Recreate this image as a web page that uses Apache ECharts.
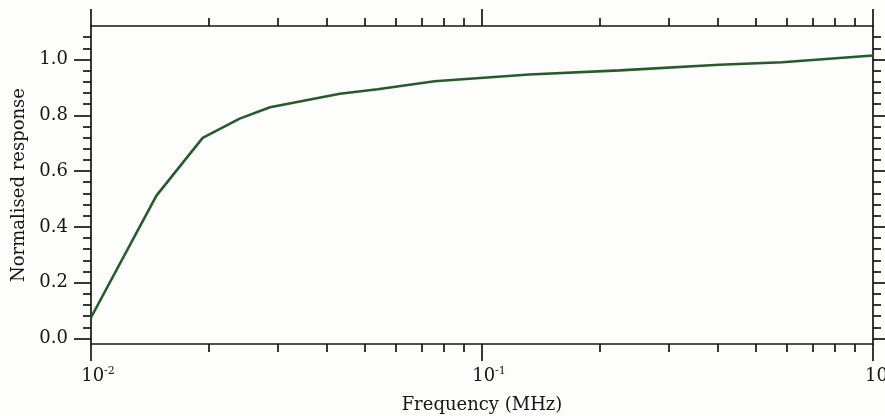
<!DOCTYPE html>
<html>
<head>
<meta charset="utf-8">
<script src="https://cdn.jsdelivr.net/npm/echarts@6/dist/echarts.min.js"></script>
<style>
  html, body { margin: 0; padding: 0; background: #fdfdfc; }
  #chart { width: 885px; height: 416px; }
</style>
</head>
<body>
<div id="chart"></div>
<script>
// Measured frequency response (frequency in MHz, normalised response)
const frequencyMHz = [0.01, 0.0147, 0.0193, 0.024, 0.0287, 0.0433, 0.0541, 0.0756, 0.132, 0.225, 0.404, 0.586, 1.0];
const normalisedResponse = [0.075, 0.512, 0.719, 0.788, 0.829, 0.877, 0.893, 0.922, 0.946, 0.961, 0.981, 0.990, 1.014];

// Tick positions
const xMajorTicks = [0.01, 0.1, 1];
const xMinorTicks = [0.02, 0.03, 0.04, 0.05, 0.06, 0.07, 0.08, 0.09, 0.2, 0.3, 0.4, 0.5, 0.6, 0.7, 0.8, 0.9];
const yMajorTicks = [0, 0.2, 0.4, 0.6, 0.8, 1.0];
const yMinorTicks = [0.04, 0.08, 0.12, 0.16, 0.24, 0.28, 0.32, 0.36, 0.44, 0.48, 0.52, 0.56,
                     0.64, 0.68, 0.72, 0.76, 0.84, 0.88, 0.92, 0.96, 1.04, 1.08];

const FONT = 'DejaVu Serif';
const INK = '#151515';
const majorLen = 17, minorLen = 8;

function xAxisBase(position, ticks, len, withLine) {
  return {
    type: 'log', logBase: 10, position: position, min: 0.01, max: 1,
    axisLine: { show: withLine, onZero: false, lineStyle: { color: INK, width: 1.7 } },
    axisTick: { show: true, inside: false, length: len, customValues: ticks, lineStyle: { color: INK, width: 1.7 } },
    axisLabel: { show: false },
    splitLine: { show: false }, minorTick: { show: false }
  };
}
function yAxisBase(position, ticks, len, withLine) {
  return {
    type: 'value', position: position, min: -0.02, max: 1.12,
    axisLine: { show: withLine, onZero: false, lineStyle: { color: INK, width: 1.7 } },
    axisTick: { show: true, inside: false, length: len, customValues: ticks, lineStyle: { color: INK, width: 1.7 } },
    axisLabel: { show: false },
    splitLine: { show: false }
  };
}

const xBottom = xAxisBase('bottom', xMajorTicks, majorLen, true);
xBottom.axisLabel = {
  show: true, customValues: xMajorTicks, margin: 22, color: INK,
  fontFamily: FONT, fontSize: 18, padding: [0, 0, 0, 14],
  formatter: function (v) { return '{b|10}{sup|' + Math.round(Math.log10(v)) + '}'; },
  rich: {
    b: { fontFamily: FONT, fontSize: 18, color: INK },
    sup: { fontFamily: FONT, fontSize: 11, color: INK, verticalAlign: 'top', padding: [0, 0, 9, 0] }
  }
};
xBottom.name = 'Frequency (MHz)';
xBottom.nameLocation = 'middle';
xBottom.nameGap = 52;
xBottom.nameTextStyle = { fontFamily: FONT, fontSize: 18, color: INK };

const yLeft = yAxisBase('left', yMajorTicks, majorLen, true);
yLeft.axisLabel = {
  show: true, customValues: yMajorTicks, margin: 23, color: INK,
  fontFamily: FONT, fontSize: 18,
  formatter: function (v) { return v.toFixed(1); }
};
yLeft.name = 'Normalised response';
yLeft.nameLocation = 'middle';
yLeft.nameGap = 62;
yLeft.nameTextStyle = { fontFamily: FONT, fontSize: 18, color: INK };

const option = {
  backgroundColor: '#fdfdfc',
  animation: false,
  grid: { left: 91, right: 12, top: 26, bottom: 72, containLabel: false, outerBoundsMode: 'none' },
  xAxis: [
    xBottom,
    xAxisBase('bottom', xMinorTicks, minorLen, false),
    xAxisBase('top', xMajorTicks, majorLen, true),
    xAxisBase('top', xMinorTicks, minorLen, false)
  ],
  yAxis: [
    yLeft,
    yAxisBase('left', yMinorTicks, minorLen, false),
    yAxisBase('right', yMajorTicks, majorLen, true),
    yAxisBase('right', yMinorTicks, minorLen, false)
  ],
  series: [{
    type: 'line',
    xAxisIndex: 0, yAxisIndex: 0,
    data: frequencyMHz.map(function (f, i) { return [f, normalisedResponse[i]]; }),
    showSymbol: false,
    smooth: false,
    lineStyle: { color: '#275a2c', width: 2.6 }
  }]
};

const chart = echarts.init(document.getElementById('chart'), null, { renderer: 'canvas' });
chart.setOption(option);
</script>
</body>
</html>
